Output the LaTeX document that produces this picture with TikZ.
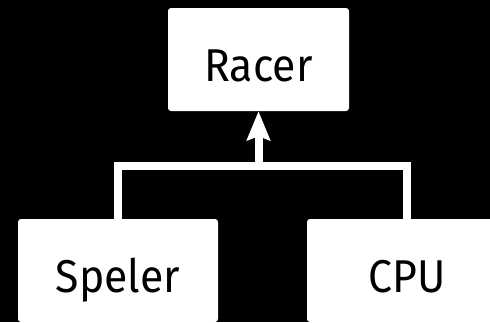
\documentclass[tikz,border=0pt]{standalone}
\usepackage{fontspec}
\setmainfont[FakeStretch=0.93]{Fira Sans}
\usetikzlibrary{arrows.meta}
\begin{document}
\begin{tikzpicture}[x=1pt,y=-1pt,
  classbox/.style={fill=white, rounded corners=3pt, inner sep=0pt,
    font=\fontsize{46}{52}\selectfont, text=black,
    text height=44pt, text depth=0pt},
  link/.style={draw=white, line width=8pt}]
  % black canvas
  \fill[black] (0,0) rectangle (490,322);
  \useasboundingbox (0,0) rectangle (490,322);
  \begin{scope}
    \clip (0,0) rectangle (490,322);
    % class boxes
    \node[classbox, minimum width=181pt, minimum height=103pt] (racer) at (258.5,59.5) {Racer};
    \node[classbox, minimum width=200pt, minimum height=103pt] (speler) at (118,270.5) {Speler};
    \node[classbox, minimum width=200pt, minimum height=103pt] (cpu) at (407,270.5) {CPU};
    % inheritance connectors
    \coordinate (join) at (258.5,166);
    \draw[link] (speler.north) |- (join) -| (cpu.north);
    \draw[link, -{Stealth[length=29pt, width=23pt, inset=4pt]}] (join) -- (racer.south);
  \end{scope}
\end{tikzpicture}
\end{document}
